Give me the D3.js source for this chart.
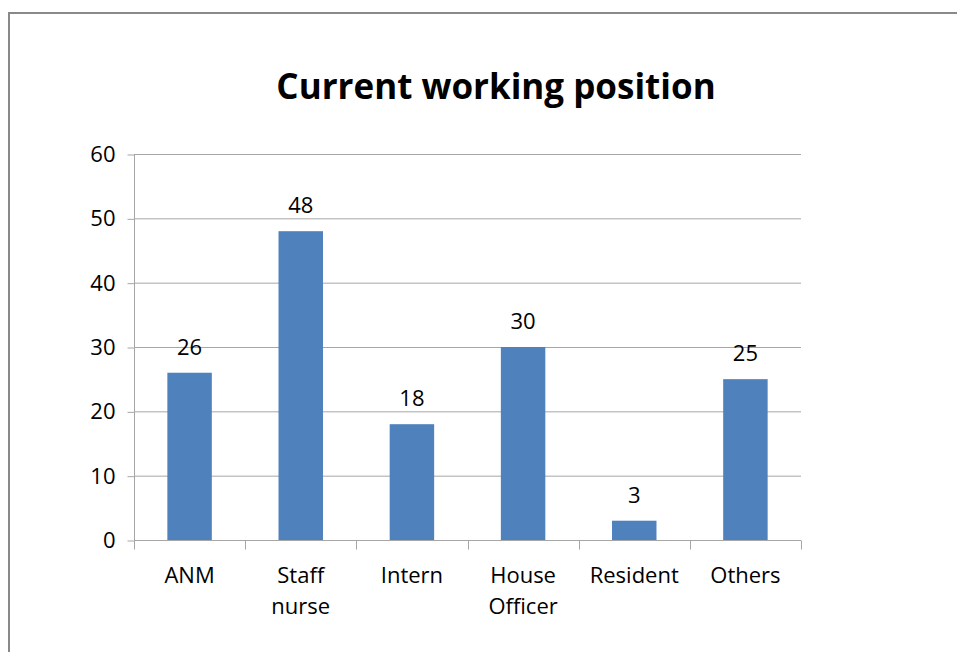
<!DOCTYPE html>
<html>
<head>
<meta charset="utf-8">
<script src="https://cdn.jsdelivr.net/npm/d3@7"></script>
<style>
body { margin:0; background:#fff; }
text { font-family: "Open Sans", sans-serif; fill:#000; }
</style>
</head>
<body>
<svg id="graph"></svg>
<script>
//data
var categories = [["ANM"], ["Staff", "nurse"], ["Intern"], ["House", "Officer"], ["Resident"], ["Others"]]
var values = [26, 48, 18, 30, 3, 25]
var yTicks = [0, 10, 20, 30, 40, 50, 60]

var svg = d3.select('#graph')
	.attr('width', 957)
	.attr('height', 652)

//outer border of the chart
svg.append('rect')
	.attr('x', 9).attr('y', 13)
	.attr('width', 1000).attr('height', 700)
	.attr('fill', '#fff')
	.attr('stroke', '#898989')
	.attr('stroke-width', 2)

var margin = {top:154, left:134, right:801, bottom:540}
var keys = categories.map(function(d, i) { return i })

var x = d3.scaleBand().domain(keys).range([margin.left, margin.right]).paddingInner(0.6).paddingOuter(0.3)
var xc = d3.scaleBand().domain(keys).range([margin.left, margin.right])
var y = d3.scaleLinear().domain([0, 60]).range([margin.bottom, margin.top])

//title
svg.append('text')
	.attr('x', 496).attr('y', 99)
	.attr('text-anchor', 'middle')
	.style('font-size', '35px')
	.style('font-weight', 'bold')
	.text('Current working position')

//gridlines
svg.append('g').selectAll('line')
	.data(yTicks.slice(1))
	.enter().append('line')
	.attr('x1', margin.left).attr('x2', margin.right)
	.attr('y1', function(d) { return y(d) + 0.5 })
	.attr('y2', function(d) { return y(d) + 0.5 })
	.attr('stroke', '#a6a6a6')

//y axis
var yaxis = svg.append('g')
	.attr('transform', 'translate(' + (margin.left + 0.5) + ',0.5)')
	.call(d3.axisLeft(y).tickValues(yTicks).tickSize(7).tickPadding(12))
yaxis.select('.domain').attr('stroke', '#a6a6a6').attr('d', 'M0,' + margin.top + 'V' + margin.bottom)
yaxis.selectAll('.tick line').attr('stroke', '#a6a6a6')
yaxis.selectAll('.tick text').style('font-size', '22px').attr('fill', '#000').style('font-family', '"Open Sans", sans-serif')

//bars
svg.append('g').selectAll('.bar')
	.data(values)
	.enter().append('rect')
	.attr('class', 'bar')
	.attr('x', function(d, i) { return x(i) })
	.attr('width', x.bandwidth())
	.attr('y', function(d) { return y(d) })
	.attr('height', function(d) { return y(0) - y(d) })
	.attr('fill', '#4f81bd')

//x axis
var xaxis = svg.append('g')
	.attr('transform', 'translate(0,' + (margin.bottom + 0.5) + ')')
xaxis.append('line')
	.attr('x1', margin.left).attr('x2', margin.right)
	.attr('stroke', '#a6a6a6')
xaxis.selectAll('.xt')
	.data(keys.concat([keys.length]))
	.enter().append('line')
	.attr('class', 'xt')
	.attr('x1', function(d) { return Math.round(margin.left + d * xc.step()) + 0.5 })
	.attr('x2', function(d) { return Math.round(margin.left + d * xc.step()) + 0.5 })
	.attr('y1', 0).attr('y2', 9)
	.attr('stroke', '#a6a6a6')

//category labels
var labels = svg.append('g').selectAll('.cat')
	.data(categories)
	.enter().append('text')
	.attr('class', 'cat')
	.attr('text-anchor', 'middle')
	.attr('transform', function(d, i) { return 'translate(' + (xc(i) + xc.bandwidth() / 2) + ',583)' })
	.style('font-size', '22px')
labels.selectAll('tspan')
	.data(function(d) { return d })
	.enter().append('tspan')
	.attr('x', 0)
	.attr('y', function(d, i) { return i * 31 })
	.text(function(d) { return d })

//value labels
svg.append('g').selectAll('.val')
	.data(values)
	.enter().append('text')
	.attr('class', 'val')
	.attr('text-anchor', 'middle')
	.attr('x', function(d, i) { return x(i) + x.bandwidth() / 2 })
	.attr('y', function(d) { return y(d) - 18 })
	.style('font-size', '22px')
	.text(function(d) { return d })
</script>
</body>
</html>
